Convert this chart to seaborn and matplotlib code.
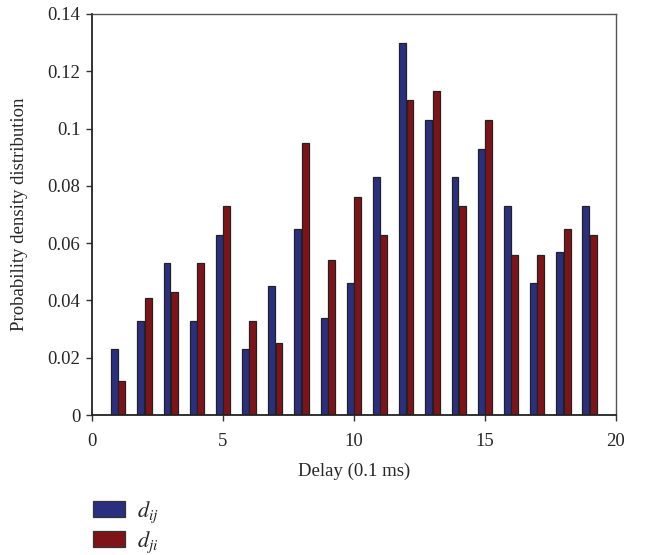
import numpy as np
import pandas as pd
import matplotlib
matplotlib.use("Agg")
import matplotlib.pyplot as plt
import seaborn as sns

# values
delay = list(range(1, 20))
d_ij = [0.023, 0.033, 0.053, 0.033, 0.063, 0.023, 0.045, 0.065, 0.034, 0.046,
        0.083, 0.130, 0.103, 0.083, 0.093, 0.073, 0.046, 0.057, 0.073]
d_ji = [0.012, 0.041, 0.043, 0.053, 0.073, 0.033, 0.025, 0.095, 0.054, 0.076,
        0.063, 0.110, 0.113, 0.073, 0.103, 0.056, 0.056, 0.065, 0.063]
labels = [r"$d_{ij}$", r"$d_{ji}$"]
colors = ["#2b2f7f", "#7f1418"]

df = pd.DataFrame({
    "delay": delay * 2,
    "p": d_ij + d_ji,
    "series": [labels[0]] * len(delay) + [labels[1]] * len(delay),
})

sns.set_style("ticks")
plt.rcParams["font.family"] = ["Liberation Serif", "DejaVu Serif"]
plt.rcParams["mathtext.fontset"] = "stix"

fig = plt.figure(figsize=(6.53, 5.55), dpi=100)
ax = fig.add_axes([0.141, 0.252, 0.802, 0.723])

sns.barplot(data=df, x="delay", y="p", hue="series", native_scale=True,
            palette=colors, width=0.56, gap=0.06, edgecolor="#222222",
            linewidth=0.9, saturation=1, ax=ax)

ax.set_xlim(0, 20)
ax.set_ylim(0, 0.14)
ax.set_xticks([0, 5, 10, 15, 20])
ax.set_yticks(np.arange(0, 0.141, 0.02))
ax.set_yticklabels(["0", "0.02", "0.04", "0.06", "0.08", "0.1", "0.12", "0.14"])
ax.tick_params(labelsize=13.5, direction="out", length=4.5, width=1, color="#333333")
ax.tick_params(axis="x", pad=8)
ax.tick_params(axis="y", pad=4)
ax.set_xlabel("Delay (0.1 ms)", fontsize=13.5)
ax.set_ylabel("Probability density distribution", fontsize=13.5)
ax.xaxis.set_label_coords(0.5, -0.118)
ax.yaxis.set_label_coords(-0.122, 0.5)
for side in ["left", "bottom"]:
    ax.spines[side].set_linewidth(1.3)
    ax.spines[side].set_color("#222222")
for side in ["top", "right"]:
    ax.spines[side].set_linewidth(1.0)
    ax.spines[side].set_color("#555555")

ax.legend_.remove()
handles = [plt.Rectangle((0, 0), 1, 1, facecolor=c, edgecolor="#333333", linewidth=0.9)
           for c in colors]
fig.legend(handles, labels, loc="upper left", bbox_to_anchor=(0.142, 0.1),
           frameon=False, fontsize=16, handlelength=1.45, handleheight=0.7,
           labelspacing=0.2, handletextpad=0.55, borderaxespad=0, borderpad=0)

fig.savefig("out.png", dpi=100)
